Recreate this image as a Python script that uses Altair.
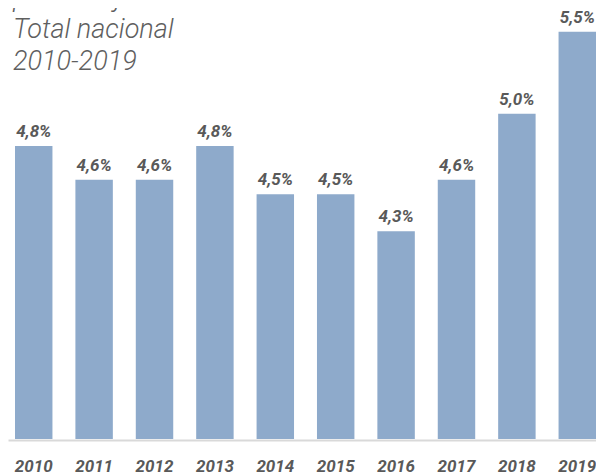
import altair as alt
import pandas as pd

years = ["2010", "2011", "2012", "2013", "2014", "2015", "2016", "2017", "2018", "2019"]
values = [4.82, 4.61, 4.61, 4.82, 4.52, 4.52, 4.29, 4.61, 5.02, 5.53]
title_lines = ["porcentaje del PIB", "Total nacional", "2010-2019"]

df = pd.DataFrame({"year": years, "value": values})

W, H = 588, 431
PX_PER_UNIT = 161.0
ymax = 3.0 + 431 / PX_PER_UNIT
ymin = ymax - H / PX_PER_UNIT

x_enc = alt.X(
    "year:N",
    sort=years,
    scale=alt.Scale(paddingInner=0.38, paddingOuter=0.058, align=1),
    axis=alt.Axis(
        title=None,
        ticks=False,
        tickSize=0,
        domain=True,
        domainColor="#d9d9d9",
        domainWidth=2,
        offset=1,
        grid=False,
        labelAngle=0,
        labelFont="Roboto",
        labelFontSize=17,
        labelFontWeight="bold",
        labelFontStyle="italic",
        labelColor="#595959",
        labelBaseline="alphabetic",
        labelPadding=31,
    ),
)
y_enc = alt.Y("value:Q", scale=alt.Scale(domain=[ymin, ymax], zero=False, nice=False), axis=None)

base = alt.Chart(df)

bars = base.mark_bar(color="#8eaacb").encode(x=x_enc, y=y_enc, y2=alt.Y2Datum(ymin))

labels = base.transform_calculate(
    label="replace(format(datum.value, '.1f'), '.', ',') + '%'"
).mark_text(
    dy=-9,
    baseline="alphabetic",
    font="Roboto",
    fontSize=17,
    fontWeight="bold",
    fontStyle="italic",
    color="#595959",
).encode(x=x_enc, y=y_enc, text="label:N")

title = alt.Chart(pd.DataFrame({"t": [0]})).mark_text(
    align="left",
    baseline="top",
    font="Roboto",
    fontSize=27,
    fontWeight=300,
    fontStyle="italic",
    color="#5f5f5f",
    lineHeight=32,
).encode(x=alt.value(5), y=alt.value(-23), text=alt.value(title_lines))

chart = alt.layer(bars, labels, title).properties(
    width=W,
    height=H,
    autosize=alt.AutoSizeParams(type="none"),
    padding={"left": 0, "top": 0, "right": 0, "bottom": 37},
).configure_view(stroke=None)

chart.save("out.html", embed_options={"renderer": "svg", "actions": False})
